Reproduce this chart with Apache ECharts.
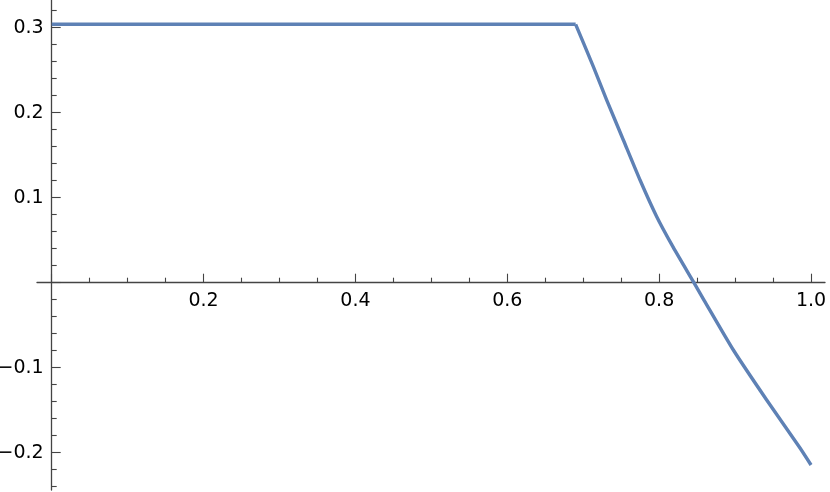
<!DOCTYPE html>
<html><head><meta charset="utf-8">
<script src="https://cdn.jsdelivr.net/npm/echarts@6/dist/echarts.min.js"></script>
<style>html,body{margin:0;padding:0;background:#fff}#c{width:830px;height:492px}</style>
</head><body><div id="c"></div>
<script>
// curve
const xValues = [0, 0.690, 0.7133, 0.7309, 0.7528, 0.7748, 0.7968, 0.8186, 0.845, 0.859, 0.8977, 0.9416, 0.9855, 1.0];
const yValues = [0.304, 0.304, 0.2541, 0.2149, 0.1679, 0.1208, 0.0776, 0.0415, 0.0012, -0.0204, -0.0792, -0.138, -0.1945, -0.2145];
// tick labels
const xTickValues = [0.2, 0.4, 0.6, 0.8, 1.0];
const xTickLabels = ['0.2', '0.4', '0.6', '0.8', '1.0'];
const yTickValues = [-0.2, -0.1, 0.1, 0.2, 0.3];
const yTickLabels = ['\u22120.2', '\u22120.1', '0.1', '0.2', '0.3'];

function labelFor(vals, labs) {
  return function (v) {
    const i = vals.findIndex(t => Math.abs(t - v) < 1e-9);
    return i >= 0 ? labs[i] : '';
  };
}
const axisColor = '#444';
const labelStyle = { color: '#000', fontFamily: 'DejaVu Sans', fontSize: 19 };
const pts = xValues.map((x, i) => [x, yValues[i]]);
const lineStyle = { color: '#5E81B5', width: 3.4, join: 'round' };
const hidden = { show: false };
const noGrid = { containLabel: false, outerBoundsMode: 'none' };

const chart = echarts.init(document.getElementById('c'), null, { renderer: 'canvas' });
chart.setOption({
  animation: false,
  grid: [
    Object.assign({ left: 37, right: 5, top: 0, bottom: 2 }, noGrid),        // data + axis lines
    Object.assign({ left: 51.7, right: 19, top: 0, bottom: 209.3 }, noGrid), // x ticks/labels
    Object.assign({ left: 51.7, right: 19, top: -57.3, bottom: -45.7 }, noGrid) // y ticks/labels
  ],
  xAxis: [
    { type: 'value', gridIndex: 0, min: -0.0194, max: 1.0184,
      axisLine: { show: true, onZero: true, lineStyle: { color: axisColor, width: 1.3 } },
      axisTick: hidden, axisLabel: hidden, splitLine: hidden },
    { type: 'value', gridIndex: 1, position: 'bottom', min: 0, max: 1, interval: 0.2,
      axisLine: { show: false, onZero: false },
      axisTick: { show: true, inside: true, length: 9, lineStyle: { color: axisColor, width: 1.1 } },
      minorTick: { show: true, splitNumber: 4, length: 5, lineStyle: { color: axisColor, width: 1.1 } },
      axisLabel: Object.assign({ margin: 9, formatter: labelFor(xTickValues, xTickLabels) }, labelStyle),
      splitLine: hidden },
    { type: 'value', gridIndex: 2, min: 0, max: 1, show: false }
  ],
  yAxis: [
    { type: 'value', gridIndex: 0, min: -0.24388, max: 0.33259,
      axisLine: { show: true, onZero: true, lineStyle: { color: axisColor, width: 1.3 } },
      axisTick: hidden, axisLabel: hidden, splitLine: hidden },
    { type: 'value', gridIndex: 1, min: 0, max: 1, show: false },
    { type: 'value', gridIndex: 2, position: 'left', min: -0.3, max: 0.4, interval: 0.1,
      axisLine: { show: false, onZero: false },
      axisTick: { show: true, inside: true, length: 9, lineStyle: { color: axisColor, width: 1.1 } },
      minorTick: { show: true, splitNumber: 5, length: 5, lineStyle: { color: axisColor, width: 1.1 } },
      axisLabel: Object.assign({ margin: 8, formatter: labelFor(yTickValues, yTickLabels) }, labelStyle),
      splitLine: hidden }
  ],
  series: [
    { type: 'line', xAxisIndex: 0, yAxisIndex: 0, data: pts.slice(0, 2),
      showSymbol: false, smooth: false, lineStyle: lineStyle },
    { type: 'line', xAxisIndex: 0, yAxisIndex: 0, data: pts.slice(1),
      showSymbol: false, smooth: 0.2, lineStyle: lineStyle }
  ]
});
</script>
</body></html>
